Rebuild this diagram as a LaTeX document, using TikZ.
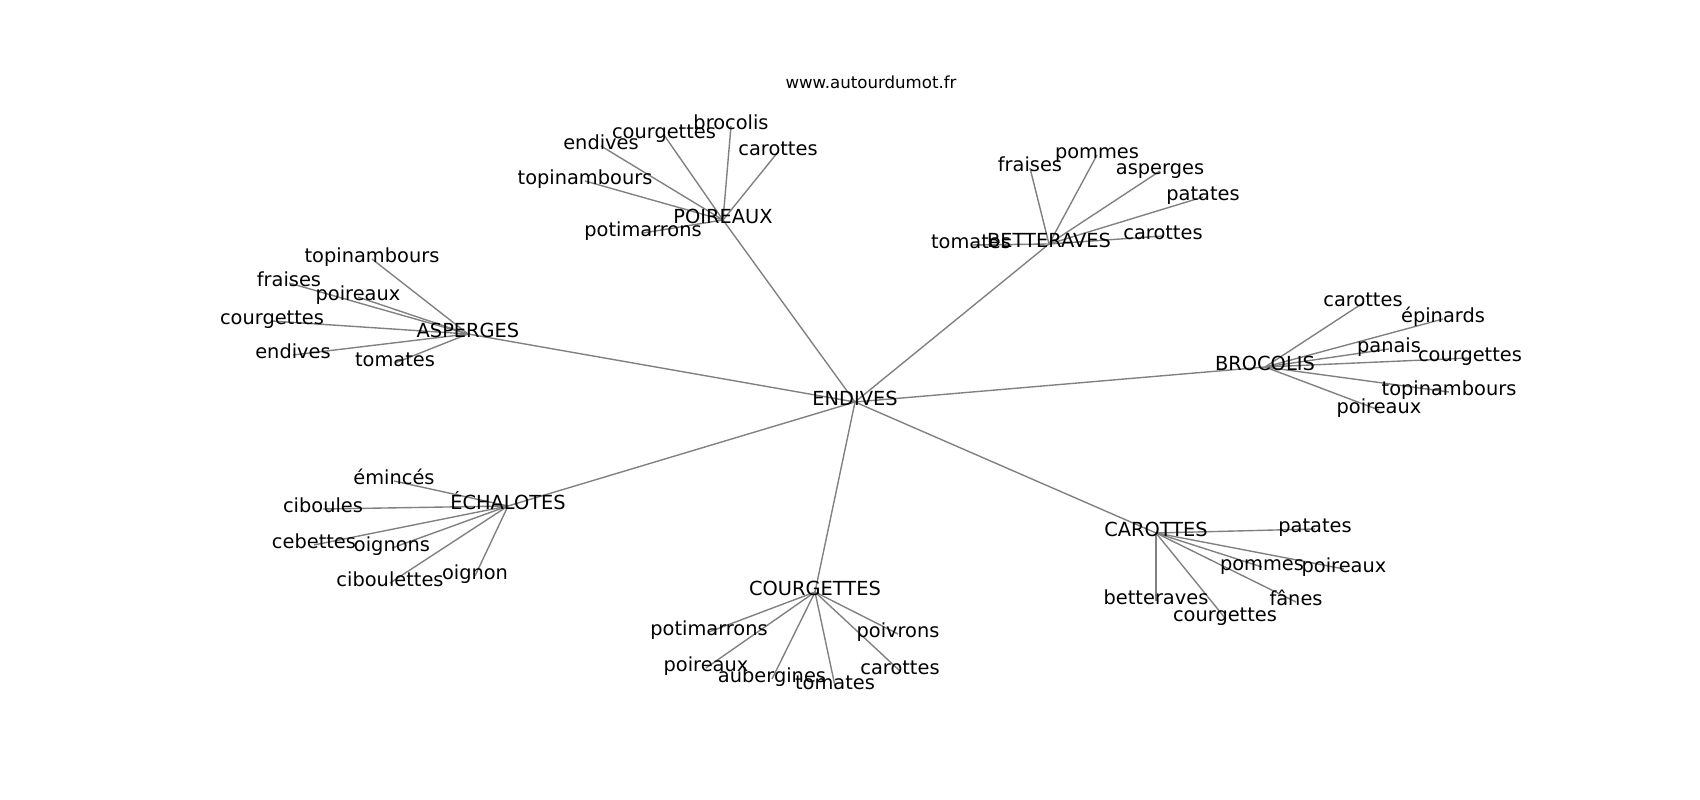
\documentclass[tikz,border=0pt]{standalone}
\usepackage{fontspec}
\setmainfont{DejaVu Sans}
\usetikzlibrary{backgrounds}

\begin{document}
\begin{tikzpicture}[x=0.01in, y=-0.01in,
    word/.style={inner sep=0pt, text height=0.76em, text depth=0.24em, font=\fontsize{14}{17}\selectfont},
    link/.style={draw=gray, line width=1pt}]

    \useasboundingbox (0,-2) rectangle (1700,798);

    \node[word, font=\fontsize{12}{14}\selectfont] (site) at (871,83) {www.autourdumot.fr};

    % centre and hubs
    \node[word] (endives) at (855,400) {ENDIVES};
    \node[word] (poireaux) at (723,218) {POIREAUX};
    \node[word] (betteraves) at (1049,242) {BETTERAVES};
    \node[word] (asperges) at (468,332) {ASPERGES};
    \node[word] (brocolis) at (1265,365) {BROCOLIS};
    \node[word] (echalotes) at (508,504) {ÉCHALOTES};
    \node[word] (courgettes) at (815,590) {COURGETTES};
    \node[word] (carottes) at (1156,531) {CAROTTES};

    % POIREAUX
    \node[word] (po-potimarrons) at (643,231) {potimarrons};
    \node[word] (po-topinambours) at (585,179) {topinambours};
    \node[word] (po-endives) at (601,144) {endives};
    \node[word] (po-courgettes) at (664,133) {courgettes};
    \node[word] (po-brocolis) at (731,124) {brocolis};
    \node[word] (po-carottes) at (778,150) {carottes};

    % BETTERAVES
    \node[word] (be-tomates) at (971,243) {tomates};
    \node[word] (be-fraises) at (1030,166) {fraises};
    \node[word] (be-pommes) at (1097,153) {pommes};
    \node[word] (be-asperges) at (1160,169) {asperges};
    \node[word] (be-patates) at (1203,195) {patates};
    \node[word] (be-carottes) at (1163,234) {carottes};

    % ASPERGES
    \node[word] (as-topinambours) at (372,257) {topinambours};
    \node[word] (as-fraises) at (289,281) {fraises};
    \node[word] (as-poireaux) at (358,295) {poireaux};
    \node[word] (as-courgettes) at (272,319) {courgettes};
    \node[word] (as-endives) at (293,353) {endives};
    \node[word] (as-tomates) at (395,361) {tomates};

    % BROCOLIS
    \node[word] (br-carottes) at (1363,301) {carottes};
    \node[word] (br-epinards) at (1443,317) {épinards};
    \node[word] (br-panais) at (1389,347) {panais};
    \node[word] (br-courgettes) at (1470,356) {courgettes};
    \node[word] (br-topinambours) at (1449,390) {topinambours};
    \node[word] (br-poireaux) at (1379,408) {poireaux};

    % ÉCHALOTES
    \node[word] (ec-eminces) at (394,479) {émincés};
    \node[word] (ec-ciboules) at (323,507) {ciboules};
    \node[word] (ec-cebettes) at (314,543) {cebettes};
    \node[word] (ec-oignons) at (392,546) {oignons};
    \node[word] (ec-ciboulettes) at (390,581) {ciboulettes};
    \node[word] (ec-oignon) at (475,574) {oignon};

    % COURGETTES
    \node[word] (co-potimarrons) at (709,630) {potimarrons};
    \node[word] (co-poireaux) at (706,666) {poireaux};
    \node[word] (co-aubergines) at (772,677) {aubergines};
    \node[word] (co-tomates) at (835,684) {tomates};
    \node[word] (co-poivrons) at (898,632) {poivrons};
    \node[word] (co-carottes) at (900,669) {carottes};

    % CAROTTES
    \node[word] (ca-patates) at (1315,527) {patates};
    \node[word] (ca-pommes) at (1262,565) {pommes};
    \node[word] (ca-poireaux) at (1344,567) {poireaux};
    \node[word] (ca-fanes) at (1296,600) {fânes};
    \node[word] (ca-betteraves) at (1156,599) {betteraves};
    \node[word] (ca-courgettes) at (1225,616) {courgettes};

    \begin{scope}[on background layer]
    \draw[link] (endives.center) -- (poireaux.center);
    \draw[link] (endives.center) -- (betteraves.center);
    \draw[link] (endives.center) -- (asperges.center);
    \draw[link] (endives.center) -- (brocolis.center);
    \draw[link] (endives.center) -- (echalotes.center);
    \draw[link] (endives.center) -- (courgettes.center);
    \draw[link] (endives.center) -- (carottes.center);

    \draw[link] (poireaux.center) -- (po-potimarrons.center);
    \draw[link] (poireaux.center) -- (po-topinambours.center);
    \draw[link] (poireaux.center) -- (po-endives.center);
    \draw[link] (poireaux.center) -- (po-courgettes.center);
    \draw[link] (poireaux.center) -- (po-brocolis.center);
    \draw[link] (poireaux.center) -- (po-carottes.center);

    \draw[link] (betteraves.center) -- (be-tomates.center);
    \draw[link] (betteraves.center) -- (be-fraises.center);
    \draw[link] (betteraves.center) -- (be-pommes.center);
    \draw[link] (betteraves.center) -- (be-asperges.center);
    \draw[link] (betteraves.center) -- (be-patates.center);
    \draw[link] (betteraves.center) -- (be-carottes.center);

    \draw[link] (asperges.center) -- (as-topinambours.center);
    \draw[link] (asperges.center) -- (as-fraises.center);
    \draw[link] (asperges.center) -- (as-poireaux.center);
    \draw[link] (asperges.center) -- (as-courgettes.center);
    \draw[link] (asperges.center) -- (as-endives.center);
    \draw[link] (asperges.center) -- (as-tomates.center);

    \draw[link] (brocolis.center) -- (br-carottes.center);
    \draw[link] (brocolis.center) -- (br-epinards.center);
    \draw[link] (brocolis.center) -- (br-panais.center);
    \draw[link] (brocolis.center) -- (br-courgettes.center);
    \draw[link] (brocolis.center) -- (br-topinambours.center);
    \draw[link] (brocolis.center) -- (br-poireaux.center);

    \draw[link] (echalotes.center) -- (ec-eminces.center);
    \draw[link] (echalotes.center) -- (ec-ciboules.center);
    \draw[link] (echalotes.center) -- (ec-cebettes.center);
    \draw[link] (echalotes.center) -- (ec-oignons.center);
    \draw[link] (echalotes.center) -- (ec-ciboulettes.center);
    \draw[link] (echalotes.center) -- (ec-oignon.center);

    \draw[link] (courgettes.center) -- (co-potimarrons.center);
    \draw[link] (courgettes.center) -- (co-poireaux.center);
    \draw[link] (courgettes.center) -- (co-aubergines.center);
    \draw[link] (courgettes.center) -- (co-tomates.center);
    \draw[link] (courgettes.center) -- (co-poivrons.center);
    \draw[link] (courgettes.center) -- (co-carottes.center);

    \draw[link] (carottes.center) -- (ca-patates.center);
    \draw[link] (carottes.center) -- (ca-pommes.center);
    \draw[link] (carottes.center) -- (ca-poireaux.center);
    \draw[link] (carottes.center) -- (ca-fanes.center);
    \draw[link] (carottes.center) -- (ca-betteraves.center);
    \draw[link] (carottes.center) -- (ca-courgettes.center);
    \end{scope}

\end{tikzpicture}
\end{document}
